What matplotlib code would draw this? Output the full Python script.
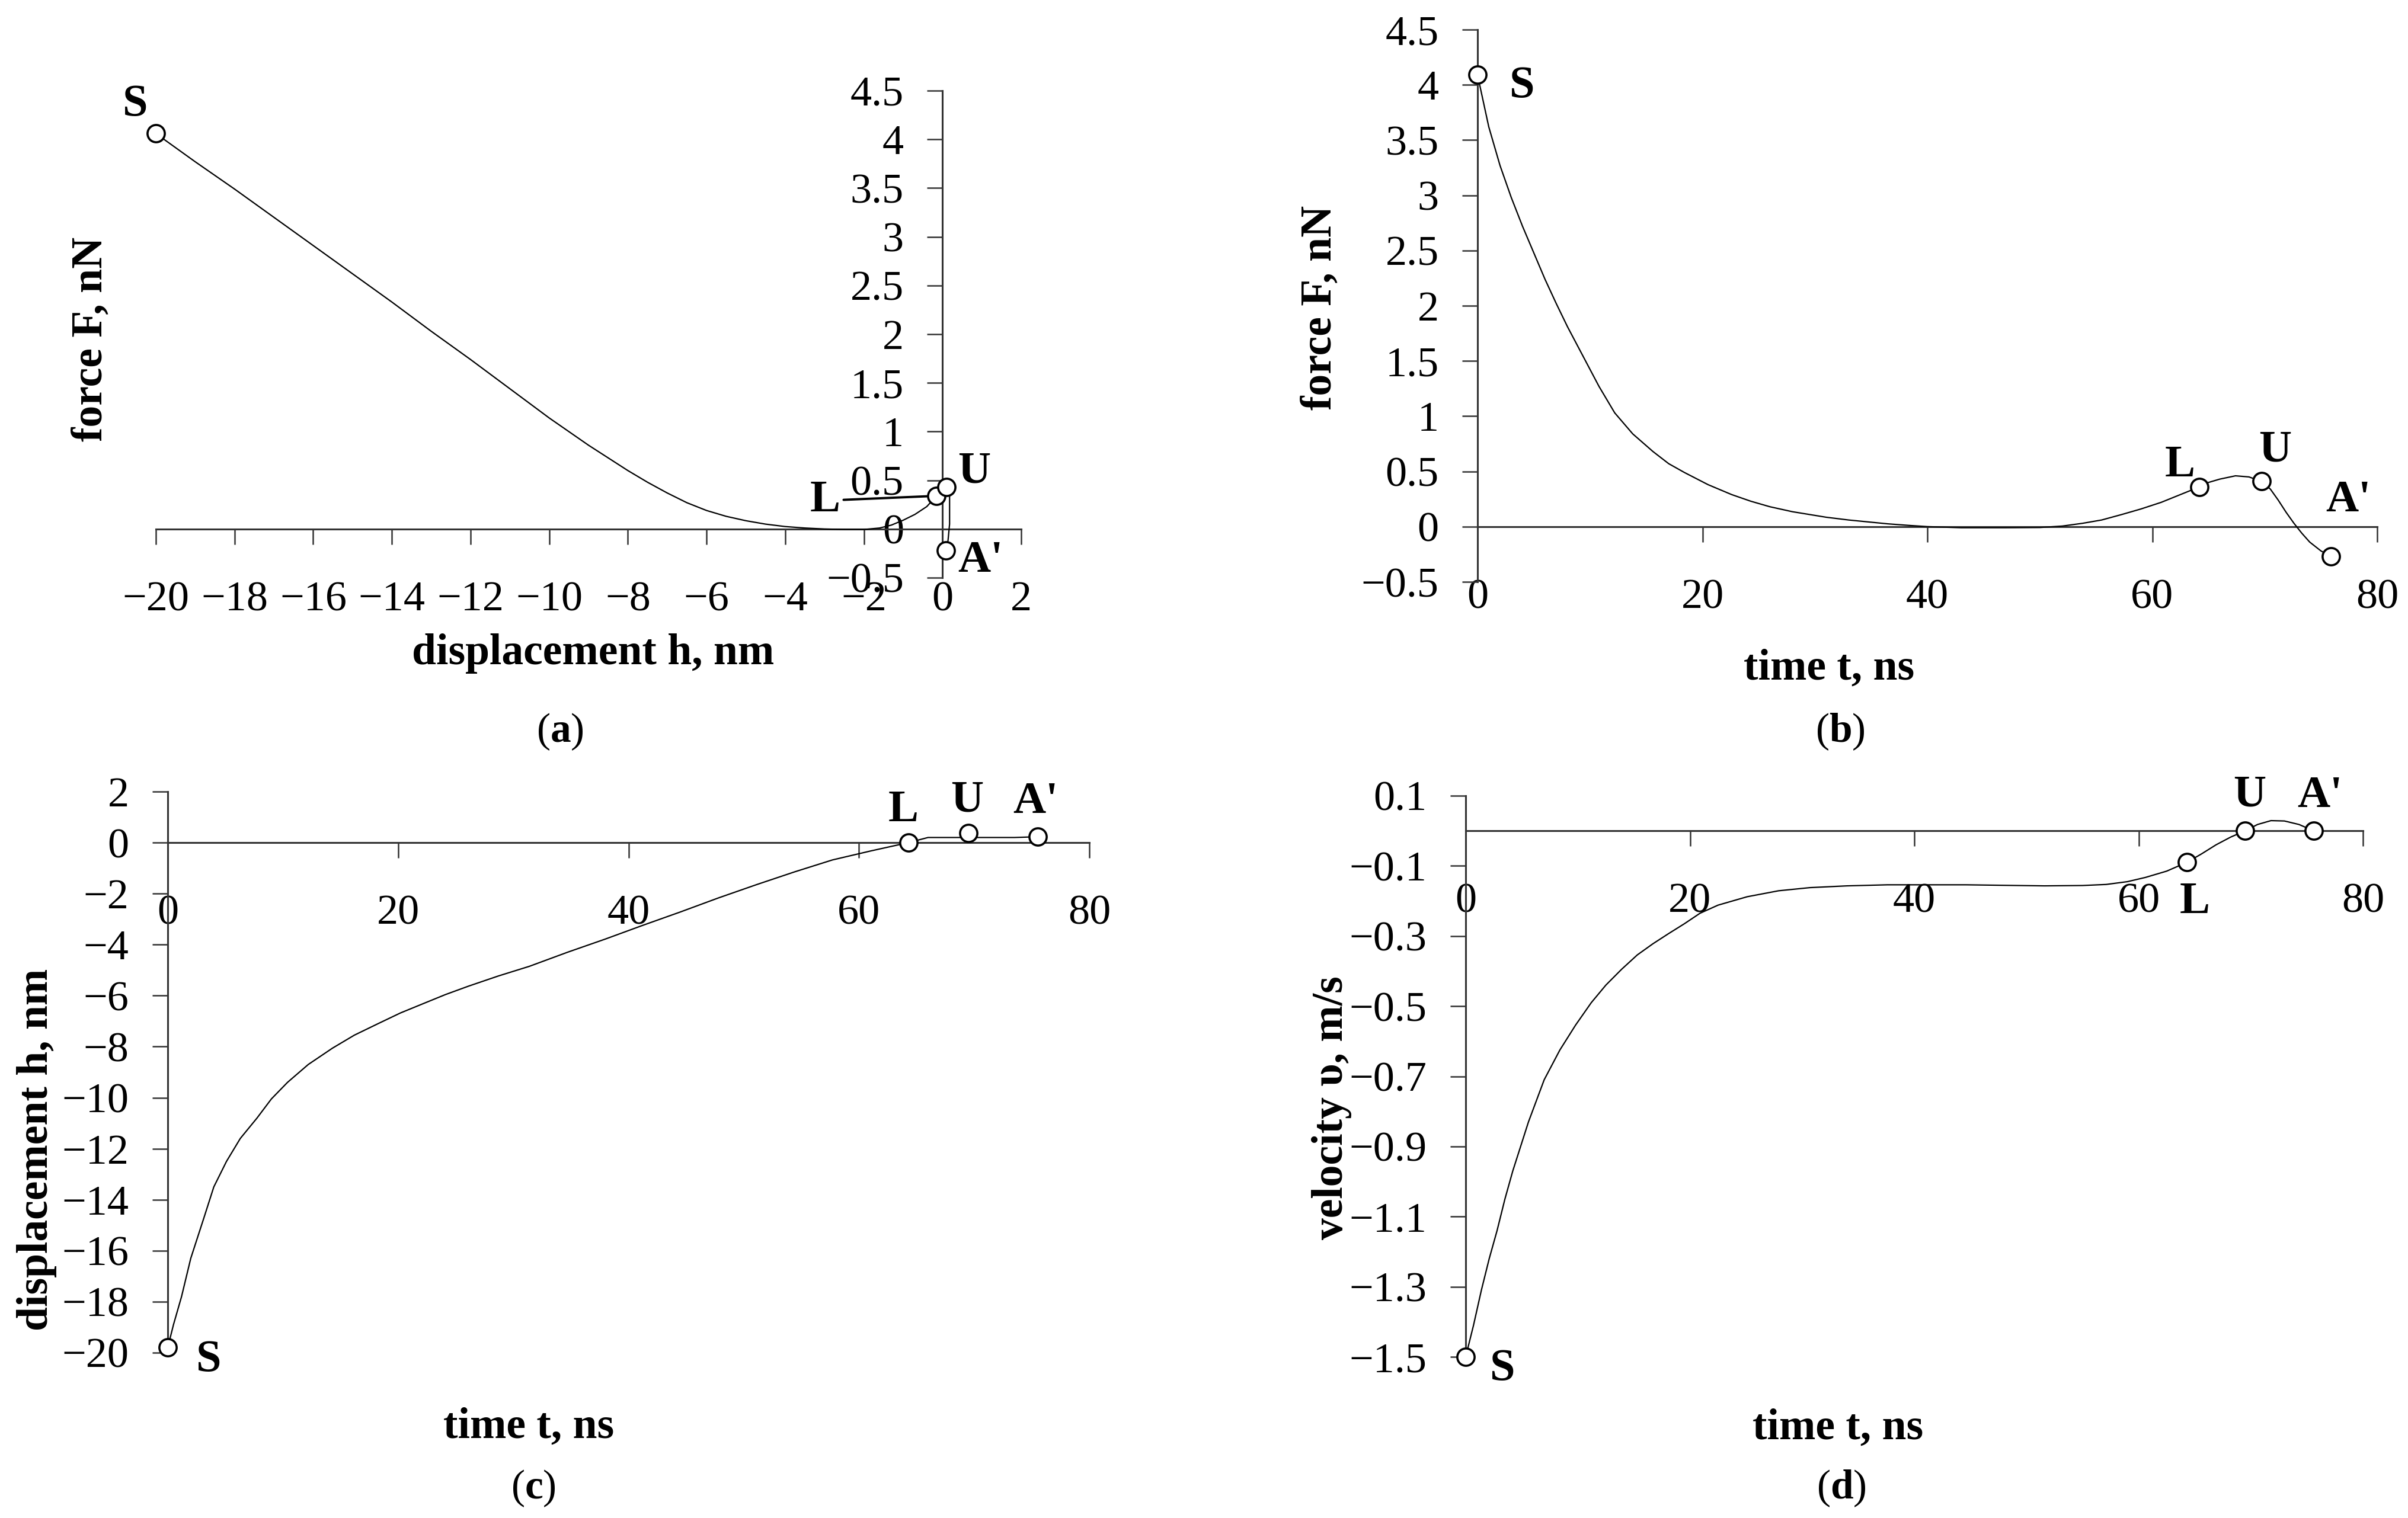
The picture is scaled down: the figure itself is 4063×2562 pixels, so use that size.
import matplotlib
matplotlib.use('Agg')
import matplotlib.pyplot as plt

plt.rcParams['font.family'] = ['Liberation Serif', 'DejaVu Serif']
plt.rcParams['mathtext.fontset'] = 'custom'
plt.rcParams['mathtext.rm'] = 'Liberation Serif'
plt.rcParams['mathtext.bf'] = 'Liberation Serif:bold'

# (a) force vs displacement
a_h = [-20, -19, -18, -17, -16, -15, -14, -13, -12, -11, -10, -9, -8, -7.5, -7, -6.5, -6, -5.5, -5, -4.5,
       -4, -3.5, -3, -2.5, -2, -1.6, -1.3, -1.0, -0.7, -0.4, -0.15, 0.10, 0.18, 0.18, 0.14, 0.08]
a_F = [4.06, 3.77, 3.49, 3.20, 2.91, 2.62, 2.33, 2.03, 1.74, 1.44, 1.14, 0.86, 0.60, 0.48, 0.37, 0.27, 0.19, 0.13, 0.085, 0.05,
       0.025, 0.01, 0.0, -0.005, -0.005, 0.01, 0.04, 0.09, 0.15, 0.23, 0.34, 0.43, 0.38, 0.05, -0.12, -0.22]
a_pts_h = [-20, -0.15, 0.10, 0.08]
a_pts_F = [4.06, 0.34, 0.43, -0.22]

# (b) force vs time
b_t = [0, 1, 2, 3, 4, 5, 6, 7, 8, 9.4, 10.8, 12.2, 13.8, 15.6, 17, 18.4, 20.5, 22.6, 24.3, 26, 28, 29.5, 31, 33,
       35, 36.5, 38.5, 40, 43, 47, 50, 52, 53.8, 55.5, 57.3, 59, 60.8, 62.5, 64.2, 65, 66, 67.4, 68.6, 69.7,
       70.5, 71.2, 71.9, 72.6, 73.3, 74, 75, 75.9]
b_F = [4.09, 3.62, 3.27, 2.98, 2.72, 2.48, 2.24, 2.02, 1.81, 1.54, 1.27, 1.03, 0.84, 0.68, 0.57, 0.49, 0.38, 0.29, 0.23, 0.18, 0.135, 0.11, 0.085, 0.06,
       0.04, 0.025, 0.01, 0.0, -0.01, -0.01, -0.008, 0.005, 0.03, 0.06, 0.11, 0.16, 0.22, 0.29, 0.36, 0.40, 0.43, 0.46, 0.45, 0.41,
       0.34, 0.24, 0.13, 0.03, -0.06, -0.14, -0.22, -0.27]
b_pts_t = [0, 64.2, 69.7, 75.9]
b_pts_F = [4.09, 0.36, 0.41, -0.27]

# (c) displacement vs time
c_t = [0, 0.5, 1.2, 2, 3.15, 4, 5.1, 6.3, 7.75, 9, 10.4, 12.2, 14.3, 16.2, 18.3, 20.2, 22.2, 24.1, 26.1, 28.7,
       31.4, 34.7, 38.0, 41.2, 44.5, 47.8, 51.1, 54.4, 57.7, 61.0, 64.3, 66.0, 69.5, 73.5, 75.5]
c_h = [-19.8, -18.9, -17.8, -16.3, -14.7, -13.5, -12.5, -11.6, -10.8, -10.05, -9.4, -8.7, -8.06, -7.55, -7.09, -6.68, -6.31, -5.96, -5.63, -5.23,
       -4.85, -4.3, -3.78, -3.25, -2.72, -2.17, -1.65, -1.15, -0.68, -0.33, 0.0, 0.2, 0.2, 0.2, 0.23]
c_pts_t = [0, 64.3, 69.5, 75.5]
c_pts_h = [-19.8, 0.0, 0.38, 0.23]

# (d) velocity vs time
d_t = [0, 0.7, 1.4, 2.1, 2.8, 3.5, 4.2, 4.9, 5.6, 6.3, 7.0, 8.4, 9.8, 11.2, 12.5, 13.9, 15.3, 16.7, 18.1, 19.5,
       20.9, 22.5, 25.1, 27.9, 30.7, 34, 37.6, 44.6, 51.6, 55, 57.1, 59, 60.6, 62.5, 64.3, 65.6, 66.9, 68.2, 69.5,
       70.6, 71.8, 73, 74.3, 75.6]
d_v = [-1.5, -1.41, -1.31, -1.22, -1.14, -1.05, -0.97, -0.90, -0.83, -0.77, -0.71, -0.625, -0.554, -0.49, -0.44, -0.395, -0.354, -0.322, -0.293, -0.265,
       -0.235, -0.212, -0.188, -0.171, -0.162, -0.157, -0.154, -0.154, -0.157, -0.156, -0.153, -0.145, -0.133, -0.115, -0.09, -0.066, -0.04, -0.018, 0.0,
       0.018, 0.029, 0.028, 0.018, 0.0]
d_pts_t = [0, 64.3, 69.5, 75.6]
d_pts_v = [-1.5, -0.09, 0.0, 0.0]

pt_names = ['S', 'L', 'U', "A'"]

W, H = 4063, 2562
fig = plt.figure(figsize=(W / 100, H / 100), dpi=100)


def make_axes(x0, x1, ytop, ybot):
    # pixel box -> figure fraction
    return fig.add_axes([x0 / W, 1 - ybot / H, (x1 - x0) / W, (ybot - ytop) / H])


def setup(ax, xlim, ylim, xticks, xlabels, yticks, ylabels):
    ax.set_xlim(xlim)
    ax.set_ylim(ylim)
    ax.patch.set_visible(False)
    for s in ['top', 'right']:
        ax.spines[s].set_visible(False)
    ax.spines['left'].set_position(('data', 0))
    ax.spines['bottom'].set_position(('data', 0))
    for s in ['left', 'bottom']:
        ax.spines[s].set_linewidth(2.2)
        ax.spines[s].set_color('#333333')
    ax.set_xticks(xticks)
    ax.set_xticklabels(xlabels)
    ax.set_yticks(yticks)
    ax.set_yticklabels(ylabels)
    ax.tick_params(axis='both', direction='out', length=19, width=1.8, color='#333333', labelsize=52)
    ax.tick_params(axis='x', pad=44)
    ax.tick_params(axis='y', pad=28)


def labels(ax, xl, yl, xpos, ypos):
    ax.set_xlabel(xl, fontsize=53, fontweight='bold', va='center', ha='center')
    ax.set_ylabel(yl, fontsize=53, fontweight='bold', va='center', ha='center')
    ax.xaxis.set_label_coords(*xpos)
    ax.yaxis.set_label_coords(*ypos)


def points(ax, xs, ys, offsets):
    ax.plot(xs, ys, 'o', ms=21, mfc='white', mec='black', mew=2.6, zorder=4, clip_on=False)
    for name, x, y, off in zip(pt_names, xs, ys, offsets):
        if off is None:
            continue
        ax.annotate(name, xy=(x, y), xytext=off, textcoords='offset pixels', ha='center', va='center',
                    fontsize=55, fontweight='bold', zorder=5)


def fmt(v):
    s = ('%g' % v)
    return s.replace('-', '\u2212')


# ---- (a)
ax = make_axes(263, 1723, 153, 975)
xt = list(range(-20, 3, 2))
yt = [-0.5, 0, 0.5, 1, 1.5, 2, 2.5, 3, 3.5, 4, 4.5]
setup(ax, (-20, 2), (-0.5, 4.5), xt, [fmt(v) for v in xt], yt, [fmt(v) for v in yt])
ax.plot(a_h, a_F, color='black', lw=1.6, zorder=3)
points(ax, a_pts_h, a_pts_F, [(-35, 49), None, (47, 26), (59, -18)])
ax.annotate('L', xy=(a_pts_h[1], a_pts_F[1]), xytext=(-188, -8), textcoords='offset pixels',
            ha='center', va='center', fontsize=55, fontweight='bold', zorder=5,
            arrowprops=dict(arrowstyle='-', lw=2.8, color='black', shrinkA=2, shrinkB=12))
labels(ax, 'displacement h, nm', 'force F, nN', (0.505, -0.156), (-0.075, 0.49))

# ---- (b)
ax = make_axes(2493, 4011, 50, 982)
xt = [0, 20, 40, 60, 80]
yt = [-0.5, 0, 0.5, 1, 1.5, 2, 2.5, 3, 3.5, 4, 4.5]
setup(ax, (0, 80), (-0.5, 4.5), xt, [fmt(v) for v in xt], yt, [fmt(v) for v in yt])
ax.plot(b_t, b_F, color='black', lw=1.6, zorder=3)
points(ax, b_pts_t, b_pts_F, [(75, -19), (-33, 36), (23, 52), (29, 95)])
labels(ax, 'time t, ns', 'force F, nN', (0.391, -0.157), (-0.175, 0.496))

# ---- (c)
ax = make_axes(283, 1838, 1336, 2283)
yt = list(range(-20, 3, 2))
setup(ax, (0, 80), (-20, 2), xt, [fmt(v) for v in xt], yt, [fmt(v) for v in yt])
ax.plot(c_t, c_h, color='black', lw=1.6, zorder=3)
points(ax, c_pts_t, c_pts_h, [(69, -21), (-9, 55), (-2, 55), (-3, 59)])
labels(ax, 'time t, ns', 'displacement h, nm', (0.392, -0.133), (-0.142, 0.362))

# ---- (d)
ax = make_axes(2473, 3987, 1343, 2290)
yt = [-1.5, -1.3, -1.1, -0.9, -0.7, -0.5, -0.3, -0.1, 0.1]
setup(ax, (0, 80), (-1.5, 0.1), xt, [fmt(v) for v in xt], yt, [fmt(v) for v in yt])
ax.plot(d_t, d_v, color='black', lw=1.6, zorder=3)
points(ax, d_pts_t, d_pts_v, [(62, -21), (13, -67), (7, 60), (11, 59)])
labels(ax, 'time t, ns', 'velocity \u03c5, m/s', (0.415, -0.127), (-0.149, 0.4435))

# panel captions
for txt, x, y in [('a', 945, 1235), ('b', 3105, 1235), ('c', 900, 2512), ('d', 3107, 2512)]:
    fig.text(x / W, 1 - y / H, '(' + r'$\mathbf{' + txt + '}$' + ')', fontsize=50, ha='center', va='center')

fig.savefig('out.png', dpi=100, facecolor='white')
